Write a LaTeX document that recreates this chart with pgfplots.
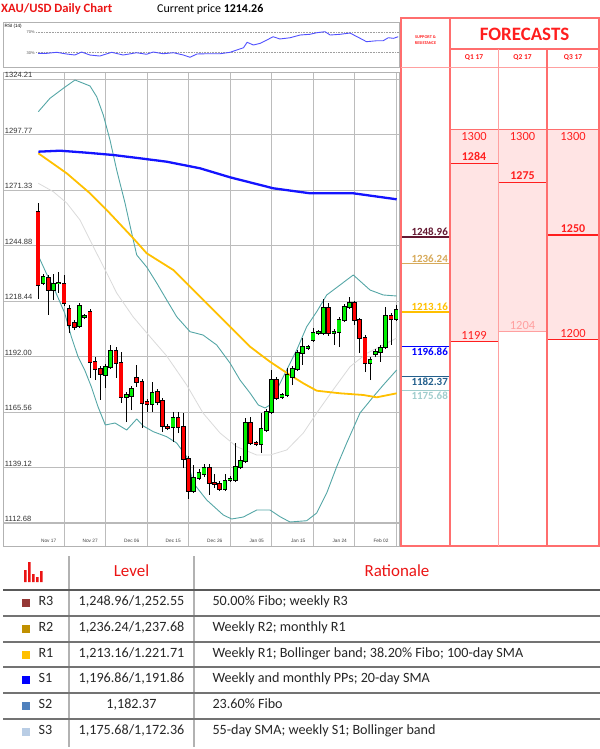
\documentclass[border=0pt]{standalone}
\usepackage{fontspec}
\setmainfont{Carlito}
\newfontfamily\chartfont{Liberation Sans}
\usepackage{pgfplots}
\usepackage{pgfplotstable}
\pgfplotsset{compat=1.18}

\definecolor{bbteal}{RGB}{84,166,166}
\definecolor{smagray}{RGB}{218,218,218}
\definecolor{smayellow}{RGB}{255,192,0}
\definecolor{smablue}{RGB}{20,20,255}
\definecolor{candlered}{RGB}{255,0,0}
\definecolor{candlegreen}{RGB}{0,240,0}
\definecolor{gridgray}{RGB}{188,188,188}
\definecolor{rsiblue}{RGB}{80,80,255}
\definecolor{titlered}{RGB}{235,20,20}
\definecolor{fcred}{RGB}{255,30,30}
\definecolor{fcborder}{RGB}{255,110,110}
\definecolor{fcpink}{RGB}{255,228,228}
\definecolor{fclight}{RGB}{255,160,160}
\definecolor{srA}{RGB}{100,25,50}
\definecolor{srB}{RGB}{215,170,90}
\definecolor{srC}{RGB}{255,192,0}
\definecolor{srD}{RGB}{0,0,255}
\definecolor{srE}{RGB}{35,95,140}
\definecolor{srF}{RGB}{160,205,205}
\definecolor{lvR3}{RGB}{149,55,53}
\definecolor{lvR2}{RGB}{192,144,0}
\definecolor{lvR1}{RGB}{255,192,0}
\definecolor{lvS1}{RGB}{0,0,255}
\definecolor{lvS2}{RGB}{79,129,189}
\definecolor{lvS3}{RGB}{185,205,229}

% daily candles: index, open, high, low, close
\pgfplotstableread{
i o h l c
1 1260.85 1265.14 1219.40 1226.07
2 1227.02 1231.31 1226.07 1229.88
3 1229.41 1230.84 1211.78 1223.69
4 1223.69 1231.31 1218.93 1226.55
5 1226.80 1232.26 1222.26 1227.02
6 1226.55 1230.84 1216.07 1217.50
7 1214.64 1216.54 1203.20 1207.02
8 1207.97 1209.40 1204.63 1206.06
9 1206.54 1217.50 1205.59 1216.07
10 1210.83 1212.26 1209.87 1211.30
11 1213.21 1214.64 1181.77 1189.39
12 1189.39 1191.77 1180.81 1186.05
13 1186.05 1187.48 1171.29 1183.67
14 1183.20 1188.44 1177.00 1187.01
15 1187.01 1197.49 1186.05 1194.63
16 1194.63 1196.53 1181.77 1188.91
17 1188.91 1194.15 1169.86 1172.71
18 1172.71 1175.10 1160.80 1173.67
19 1173.19 1177.96 1166.52 1176.53
20 1181.77 1187.96 1177.48 1179.86
21 1179.86 1181.29 1157.95 1169.86
22 1170.33 1171.76 1165.57 1169.38
23 1169.38 1179.86 1165.57 1174.62
24 1175.10 1176.53 1168.90 1170.33
25 1170.81 1172.24 1156.04 1158.90
26 1158.42 1159.85 1156.99 1157.95
27 1158.42 1165.57 1151.28 1162.71
28 1162.71 1165.57 1155.56 1158.42
29 1158.42 1165.09 1138.89 1143.18
30 1143.18 1144.61 1124.12 1127.93
31 1127.93 1140.32 1126.98 1134.13
32 1134.13 1138.41 1133.17 1136.51
33 1136.03 1140.80 1134.60 1138.89
34 1138.89 1140.80 1126.03 1131.74
35 1131.74 1136.03 1129.36 1131.27
36 1131.27 1132.70 1127.93 1128.89
37 1128.89 1136.03 1127.93 1132.70
38 1133.17 1135.08 1132.22 1133.65
39 1133.17 1150.80 1132.22 1139.37
40 1139.37 1144.61 1138.41 1142.23
41 1142.23 1162.71 1141.27 1160.33
42 1160.33 1163.19 1149.85 1150.80
43 1150.80 1151.75 1149.37 1150.32
44 1150.32 1165.09 1146.04 1157.47
45 1156.99 1167.00 1156.04 1165.57
46 1165.57 1185.58 1164.62 1180.81
47 1180.81 1182.24 1171.29 1172.24
48 1172.71 1174.62 1171.76 1173.67
49 1173.67 1186.53 1172.71 1183.20
50 1182.24 1187.48 1178.43 1186.05
51 1186.05 1195.11 1185.10 1193.68
52 1193.68 1200.82 1187.96 1196.53
53 1196.06 1197.49 1195.11 1196.53
54 1199.87 1205.59 1198.92 1203.20
55 1203.20 1204.63 1202.25 1203.68
56 1203.20 1219.40 1202.25 1215.11
57 1215.11 1217.50 1201.78 1203.20
58 1203.20 1205.11 1197.49 1203.68
59 1203.68 1210.83 1196.53 1209.40
60 1209.40 1217.02 1208.44 1215.59
61 1215.59 1220.35 1214.64 1217.50
62 1217.50 1218.45 1207.02 1209.40
63 1209.40 1210.35 1193.68 1200.82
64 1200.82 1202.25 1184.62 1188.91
65 1188.91 1191.77 1180.81 1190.34
66 1193.20 1195.58 1191.77 1194.15
67 1194.15 1197.49 1189.39 1196.06
68 1196.53 1215.59 1195.58 1211.30
69 1211.30 1212.73 1197.49 1209.87
70 1209.87 1216.54 1208.92 1214.26
}\candles

\begin{document}
\begin{tikzpicture}
\path[use as bounding box] (0,0) rectangle (600bp,-749bp);

% ---------- RSI panel ----------
\begin{axis}[
    at={(3bp,-67bp)}, anchor=south west, scale only axis,
    width=396bp, height=45bp,
    xmin=-5.744, xmax=70.557, ymin=2, ymax=90.2,
    axis line style={draw=gray!60, line width=0.7bp},
    ticks=none, clip=false,
]
\addplot[gray!75, densely dotted, line width=0.6bp] coordinates {(0.6,70) (70.557,70)};
\addplot[gray!75, densely dotted, line width=0.6bp] coordinates {(0.6,30) (70.557,30)};
\addplot[rsiblue, line width=0.9bp, line join=round] coordinates {
  (1,28.8)(2.7,28.8)(4.6,30.8)(6.5,27.5)(8.1,25.5)(9.4,31.4)(11,25.5)(12.9,23.5)
  (15.2,30.8)(17.4,25.5)(20,30)(21.9,26.9)(23.2,31.4)(25.1,28)(27.1,30)(29,25.5)
  (30.3,21)(31.6,27.5)(33.5,28)(36.1,28)(38,30.8)(39.3,35.3)(40.6,39.8)(41.3,50.4)
  (42.5,45.1)(43.8,48.4)(45.1,54.9)(46.3,61.4)(47.6,56.9)(49.6,59.4)(51.5,64.7)
  (53.4,66.1)(54.7,69.2)(56.3,71.2)(57.3,64.7)(59.2,66.1)(61.1,68.6)(62.7,60.2)
  (64.3,51.6)(66.3,53.5)(67.5,53.5)(68.5,59.4)(69.5,58.2)(70.4,61.4)};
\node[anchor=east, inner sep=0.5bp, font=\chartfont\fontsize{4}{5}\selectfont, text=black!70] at (axis cs:0.5,70) {70\%};
\node[anchor=east, inner sep=0.5bp, font=\chartfont\fontsize{4}{5}\selectfont, text=black!70] at (axis cs:0.5,30) {30\%};
\node[anchor=north west, inner sep=1.5bp, font=\chartfont\fontsize{4.6}{5}\selectfont] at (rel axis cs:0,1) {RSI (14)};
\end{axis}

% ---------- price panel ----------
\begin{axis}[
    at={(3bp,-546bp)}, anchor=south west, scale only axis,
    width=396bp, height=474bp,
    xmin=-5.744, xmax=70.557, ymin=1101.73, ymax=1327.54,
    axis line style={draw=gray!60, line width=0.8bp},
    xtick={6,14,22,30,38,46,54,62,70},
    xticklabels={Nov 17,Nov 27,Dec 06,Dec 15,Dec 26,Jan 05,Jan 15,Jan 24,Feb 02},
    ytick={1139.12,1165.56,1192.00,1218.44,1244.88,1271.33,1297.77,1324.21},
    yticklabels={1139.12,1165.56,1192.00,1218.44,1244.88,1271.33,1297.77,1324.21},
    extra y ticks={1112.68}, extra y tick labels={1112.68},
    extra y tick style={grid style={draw=gray!55, line width=1.6bp}},
    major tick length=0pt,
    grid=major, grid style={draw=gridgray, line width=0.8bp},
    xticklabel style={font=\chartfont\fontsize{4.8}{5}\selectfont, anchor=south east,
        inner sep=0.5bp, xshift=-7bp, yshift=3bp, text=black!75},
    yticklabel style={font=\chartfont\fontsize{7.6}{8}\selectfont, anchor=south west,
        inner sep=0.8bp, xshift=1bp, text=black!80},
    /pgf/number format/assume math mode=true,
]
% 20-day SMA (middle band)
\addplot[smagray, line width=0.8bp, line join=round] coordinates {
  (1.06,1274.52)(3.95,1270.52)(6.53,1265.14)(9.09,1257.04)(11.66,1244.32)(14.24,1231.79)
  (16.16,1222.26)(19.30,1210.97)(22.58,1201.44)(25.80,1192.25)(29.65,1178.43)(32.79,1165.09)
  (36.07,1155.57)(39.29,1149.04)(43.14,1145.08)(45.70,1145.08)(48.92,1147.47)(52.12,1155.57)
  (54.70,1165.09)(57.84,1176.05)(61.12,1187.15)(64.33,1193.5)(67.53,1197.5)(70.11,1200.8)};
% upper Bollinger band
\addplot[bbteal, line width=0.9bp, line join=round] coordinates {
  (1.06,1308.63)(3.31,1315.02)(5.87,1319.78)(8.13,1323.73)(9.73,1322.16)(11.02,1320.88)
  (12.31,1315.78)(13.58,1307.06)(14.87,1295.15)(16.16,1280.86)(17.76,1265.14)(19.05,1250.85)
  (20.02,1240.37)(21.94,1234.65)(23.87,1227.02)(25.80,1218.93)(27.72,1210.97)(30.29,1203.83)
  (32.79,1202.25)(35.43,1197.49)(37.99,1188.91)(39.92,1180.81)(41.85,1174.62)(43.45,1168.90)
  (44.74,1167.47)(45.70,1168.90)(46.99,1176.05)(48.92,1185.58)(50.85,1195.11)(52.77,1206.21)
  (54.70,1213.35)(56.63,1221.31)(59.19,1226.07)(61.75,1230.84)(64.97,1223.69)(67.53,1221.31)
  (70.11,1220.83)};
% lower Bollinger band
\addplot[bbteal, line width=0.9bp, line join=round] coordinates {
  (1.0,1240.37)(2.60,1231.65)(4.22,1223.69)(6.14,1212.73)(7.42,1201.44)(8.71,1191.92)
  (10.00,1185.58)(11.27,1177.62)(12.56,1168.10)(13.97,1159.38)(15.84,1160.33)(18.09,1156.99)
  (20.02,1162.23)(21.29,1158.90)(23.22,1156.19)(25.80,1153.80)(27.72,1150.80)(29.65,1144.27)
  (30.92,1131.74)(33.51,1123.64)(36.70,1116.50)(38.32,1114.59)(40.56,1115.54)(43.14,1118.88)
  (45.70,1118.88)(47.63,1115.69)(49.55,1113.17)(52.77,1113.78)(54.70,1117.45)(56.63,1126.98)
  (58.55,1139.51)(60.48,1150.80)(63.04,1165.09)(65.61,1172.86)(67.53,1178.43)(70.11,1185.58)};
% 55-day SMA
\addplot[smayellow, line width=1.8bp, line join=round] coordinates {
  (1.06,1288.81)(6.53,1279.29)(11.02,1269.76)(14.24,1261.80)(19.36,1248.32)(21.94,1241.18)
  (27.07,1233.22)(30.29,1225.26)(34.14,1215.74)(37.99,1206.21)(41.85,1196.68)(45.70,1189.53)
  (49.55,1183.20)(52.12,1179.24)(54.70,1175.71)(59.19,1174.48)(63.68,1173.67)(66.26,1172.57)
  (70.11,1174.48)};
% 200-day SMA
\addplot[smablue, line width=2.3bp, line join=round] coordinates {
  (1.06,1289.58)(5.24,1290.05)(10.38,1289.10)(15.51,1288.00)(20.65,1286.43)(25.80,1284.81)
  (32.21,1281.67)(37.99,1277.38)(46.34,1272.14)(53.41,1269.76)(61.75,1269.76)(70.11,1266.90)};

% wicks
\addplot[draw=none, mark=none, forget plot,
    error bars/.cd, y dir=plus, y explicit, error mark=none,
    error bar style={draw=black, line width=0.6bp}]
    table[x=i, y=l, y error expr=\thisrow{h}-\thisrow{l}] {\candles};
% falling bodies
\addplot[draw=none, mark=none, forget plot,
    x filter/.expression={\thisrow{c}<\thisrow{o} ? x : nan},
    error bars/.cd, y dir=plus, y explicit, error mark=none,
    error bar style={draw=black, line width=4.6bp}]
    table[x=i, y expr=\thisrow{c}-0.35, y error expr=\thisrow{o}-\thisrow{c}+0.7] {\candles};
\addplot[draw=none, mark=none, forget plot,
    x filter/.expression={\thisrow{c}<\thisrow{o} ? x : nan},
    error bars/.cd, y dir=plus, y explicit, error mark=none,
    error bar style={draw=candlered, line width=3.2bp}]
    table[x=i, y=c, y error expr=\thisrow{o}-\thisrow{c}] {\candles};
% rising bodies
\addplot[draw=none, mark=none, forget plot,
    x filter/.expression={\thisrow{c}<\thisrow{o} ? nan : x},
    error bars/.cd, y dir=plus, y explicit, error mark=none,
    error bar style={draw=black, line width=4.6bp}]
    table[x=i, y expr=\thisrow{o}-0.35, y error expr=\thisrow{c}-\thisrow{o}+0.7] {\candles};
\addplot[draw=none, mark=none, forget plot,
    x filter/.expression={\thisrow{c}<\thisrow{o} ? nan : x},
    error bars/.cd, y dir=plus, y explicit, error mark=none,
    error bar style={draw=candlegreen, line width=3.2bp}]
    table[x=i, y=o, y error expr=\thisrow{c}-\thisrow{o}] {\candles};
\end{axis}

% ---------- forecast / support & resistance panel ----------
\begin{axis}[
    at={(400bp,-546bp)}, anchor=south west, scale only axis,
    width=200bp, height=479bp,
    xmin=400, xmax=600, ymin=1101.73, ymax=1329.93,
    axis lines=none, clip=false,
]
\addplot[fill=fcpink, draw=none] coordinates {(450,1199)(450,1300)(498,1300)(498,1199)};
\addplot[fill=fcpink, draw=none] coordinates {(498,1204)(498,1300)(547,1300)(547,1204)};
\addplot[fill=fcpink, draw=none] coordinates {(547,1200)(547,1300)(599,1300)(599,1200)};
\addplot[fcborder, line width=0.9bp] coordinates {(450,1300)(599,1300)};
\addplot[fcred, line width=1.6bp] coordinates {(450,1284)(498,1284)};
\addplot[fcred, line width=1.6bp] coordinates {(498,1275)(547,1275)};
\addplot[fcred, line width=1.6bp] coordinates {(547,1250)(599,1250)};
\addplot[fcred, line width=0.9bp] coordinates {(450,1199)(498,1199)};
\addplot[fclight, line width=0.9bp] coordinates {(498,1204)(547,1204)};
\addplot[fcred, line width=0.9bp] coordinates {(547,1200)(599,1200)};
% support and resistance levels
\addplot[srA, line width=1.3bp] coordinates {(401,1248.96)(450,1248.96)};
\addplot[srB, line width=1.3bp] coordinates {(401,1236.24)(450,1236.24)};
\addplot[srC, line width=1.3bp] coordinates {(401,1213.16)(450,1213.16)};
\addplot[srD, line width=1.6bp] coordinates {(401,1196.86)(450,1196.86)};
\addplot[srE, line width=1.3bp] coordinates {(401,1182.37)(450,1182.37)};
\addplot[srF, line width=1.3bp] coordinates {(401,1175.68)(450,1175.68)};
\tikzset{srlab/.style={inner sep=1bp, font=\bfseries\fontsize{11}{12}\selectfont},
         fclab/.style={inner sep=1.2bp, font=\fontsize{12.5}{13}\selectfont}}
\node[srlab, anchor=south east, text=srA] at (axis cs:449,1248.96) {1248.96};
\node[srlab, anchor=south east, text=srB] at (axis cs:449,1236.24) {1236.24};
\node[srlab, anchor=south east, text=srC] at (axis cs:449,1213.16) {1213.16};
\node[srlab, anchor=north east, text=srD] at (axis cs:449,1196.86) {1196.86};
\node[srlab, anchor=north east, text=srE] at (axis cs:449,1182.37) {1182.37};
\node[srlab, anchor=north east, text=srF] at (axis cs:449,1175.68) {1175.68};
\node[fclab, anchor=north, text=fcred] at (axis cs:474,1299.5) {1300};
\node[fclab, anchor=north, text=fcred] at (axis cs:522.5,1299.5) {1300};
\node[fclab, anchor=north, text=fcred] at (axis cs:573,1299.5) {1300};
\node[fclab, anchor=south, text=fcred, font=\bfseries\fontsize{12}{13}\selectfont] at (axis cs:474,1284.5) {1284};
\node[fclab, anchor=south, text=fcred, font=\bfseries\fontsize{12}{13}\selectfont] at (axis cs:522.5,1275.5) {1275};
\node[fclab, anchor=south, text=fcred, font=\bfseries\fontsize{12}{13}\selectfont] at (axis cs:573,1250.5) {1250};
\node[fclab, anchor=south, text=fcred] at (axis cs:474,1199.3) {1199};
\node[fclab, anchor=south, text=fclight] at (axis cs:522.5,1204.3) {1204};
\node[fclab, anchor=south, text=fcred] at (axis cs:573,1200.3) {1200};
\end{axis}

\begin{scope}[x=1bp, y=-1bp]
% panel frame
\draw[fcborder, line width=1.1bp] (401,18) rectangle (599,546);
\draw[fcborder, line width=1.1bp] (450,18) -- (450,546);
\draw[fcborder, line width=1.1bp] (450,49) -- (599,49);
\draw[fclight, line width=0.9bp] (401,67) -- (599,67);
\draw[fclight, line width=1.0bp] (498,49) -- (498,546);
\draw[fcborder, line width=1.1bp] (547,49) -- (547,546);
\node[text=fcred, font=\bfseries\fontsize{19}{20}\selectfont] at (524.5,34) {FORECASTS};
\node[text=fcred, align=center, font=\bfseries\fontsize{4.3}{5.2}\selectfont] at (425.5,40) {SUPPORT \&\\RESISTANCE};
\node[text=fcred, font=\bfseries\fontsize{7.5}{8}\selectfont] at (474,58) {Q1 17};
\node[text=fcred, font=\bfseries\fontsize{7.5}{8}\selectfont] at (522.5,58) {Q2 17};
\node[text=fcred, font=\bfseries\fontsize{7.5}{8}\selectfont] at (573,58) {Q3 17};

% title row
\node[anchor=west, inner sep=0, text=titlered, font=\bfseries\fontsize{12.7}{14}\selectfont] at (1,9) {XAU/USD Daily Chart};
\node[anchor=west, inner sep=0, font=\fontsize{12}{14}\selectfont] at (157,9) {Current price \textbf{1214.26}};

% level table
\draw[gray!60, line width=1.2bp] (69,556) -- (69,747);
\draw[gray!60, line width=1.2bp] (194,556) -- (194,747);
\draw[black!65, line width=1.3bp] (3,590) -- (600,590);
\foreach \yy in {616,642,667,693,719} \draw[black!55, line width=1.1bp] (3,\yy) -- (600,\yy);
\fill[titlered] (24,570) rectangle (26.5,582) (28,562) rectangle (30.5,582)
  (32,574) rectangle (34.5,582) (36,577) rectangle (38.5,582) (40,571) rectangle (42.5,582);
\node[anchor=mid, text=titlered, font=\fontsize{17}{18}\selectfont] at (131.5,574) {Level};
\node[anchor=mid, text=titlered, font=\fontsize{17}{18}\selectfont] at (397,574) {Rationale};
\tikzset{rowtxt/.style={text=black!85, font=\fontsize{14.2}{15}\selectfont}}
\foreach \yy/\cc/\nm/\lv/\rt in {
  603/lvR3/R3/{1,248.96/1,252.55}/{50.00\% Fibo; weekly R3},
  629/lvR2/R2/{1,236.24/1,237.68}/{Weekly R2; monthly R1},
  655/lvR1/R1/{1,213.16/1.221.71}/{Weekly R1; Bollinger band; 38.20\% Fibo; 100-day SMA},
  680/lvS1/S1/{1,196.86/1,191.86}/{Weekly and monthly PPs; 20-day SMA},
  706/lvS2/S2/{1,182.37}/{23.60\% Fibo},
  732/lvS3/S3/{1,175.68/1,172.36}/{55-day SMA; weekly S1; Bollinger band}} {
  \fill[\cc] (22,\yy-4) rectangle (30,\yy+4);
  \node[rowtxt, anchor=mid west] at (35,\yy) {\nm};
  \node[rowtxt, anchor=mid] at (131.5,\yy) {\lv};
  \node[rowtxt, anchor=mid west] at (209,\yy) {\rt};
}
\end{scope}
\end{tikzpicture}
\end{document}
